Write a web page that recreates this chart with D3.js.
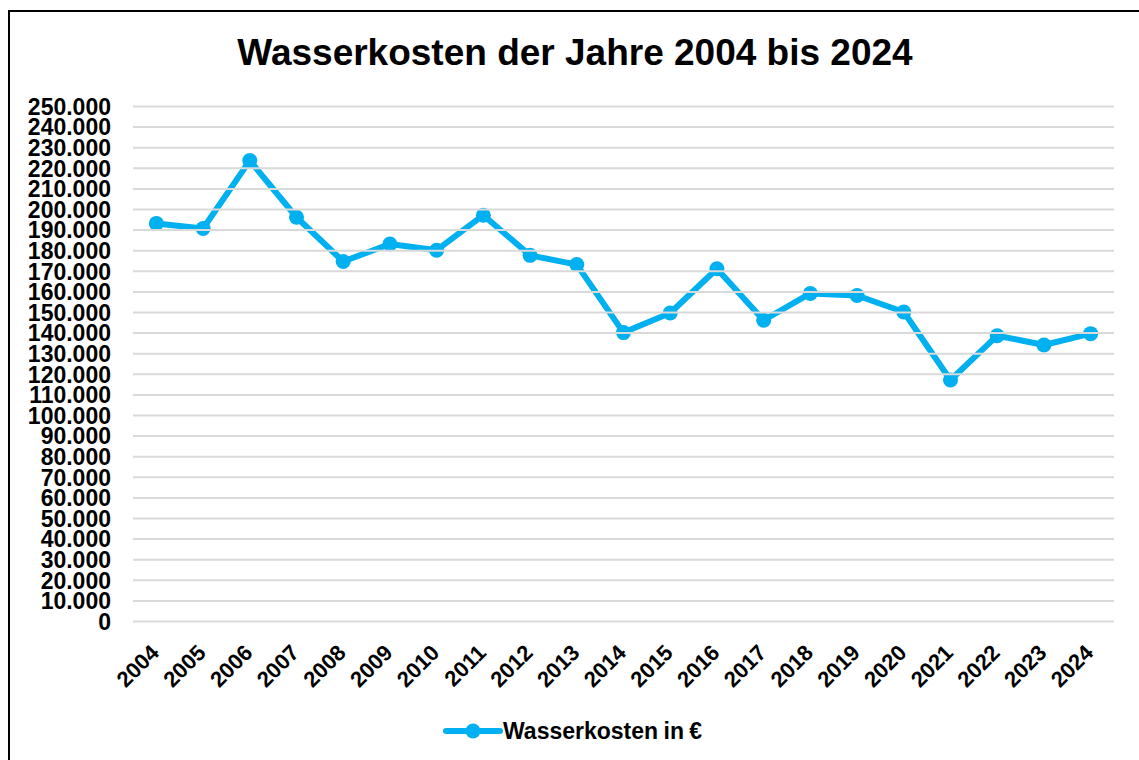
<!DOCTYPE html>
<html>
<head>
<meta charset="utf-8">
<script src="https://cdn.jsdelivr.net/npm/d3@7"></script>
<style>
  body { margin: 0; background: #ffffff; }
  svg { display: block; font-family: "Liberation Sans", Arial, sans-serif; }
  .axis text { font-weight: bold; fill: #000000; }
  .axis .domain { display: none; }
</style>
</head>
<body>
<svg></svg>
<script>
// data
let years = ['2004', '2005', '2006', '2007', '2008', '2009', '2010', '2011', '2012', '2013',
  '2014', '2015', '2016', '2017', '2018', '2019', '2020', '2021', '2022', '2023', '2024'];

let costs = [193000, 190500, 223500, 196000, 174500, 183000, 180000, 197000, 177500, 173000,
  140000, 149500, 171000, 146000, 159000, 158000, 150000, 117000, 138500, 134000, 139500];

let yTicks = [0, 10000, 20000, 30000, 40000, 50000, 60000, 70000, 80000, 90000, 100000,
  110000, 120000, 130000, 140000, 150000, 160000, 170000, 180000, 190000, 200000,
  210000, 220000, 230000, 240000, 250000];

let title = 'Wasserkosten der Jahre 2004 bis 2024';
let seriesName = 'Wasserkosten in €';

// configuration of svg/plot area
let config = {
  'svg': {},
  'margin': {},
  'plot': {}
};

config.svg.width = 1139;
config.svg.height = 760;

config.margin.top = 106;
config.margin.right = 25;
config.margin.bottom = 139;
config.margin.left = 133;

config.plot.x = config.margin.left;
config.plot.y = config.margin.top;
config.plot.width = config.svg.width - config.margin.left - config.margin.right;
config.plot.height = config.svg.height - config.margin.top - config.margin.bottom;

let blue = '#00b0f0';

// setup svg
let svg = d3.select('body').select('svg');
svg.attr('width', config.svg.width);
svg.attr('height', config.svg.height);

// outer frame (runs off the right and bottom edge like the screenshot)
svg.append('rect')
  .attr('x', 9)
  .attr('y', 11)
  .attr('width', 1200)
  .attr('height', 800)
  .style('fill', 'none')
  .style('stroke', '#000000')
  .style('stroke-width', 2);

let plot = svg.append('g');
plot.attr('id', 'plot');
plot.attr('transform', translate(config.plot.x, config.plot.y));

// scales for data
let scale = {};

scale.x = d3.scaleBand();
scale.x.domain(years);
scale.x.range([0, config.plot.width]);

scale.y = d3.scaleLinear();
scale.y.domain([0, 250000]);
scale.y.range([config.plot.height, 0]);

// german number format: 250.000
let de = d3.formatLocale({ decimal: ',', thousands: '.', grouping: [3], currency: ['', ' €'] });
let fmt = de.format(',.0f');

let axis = {};
axis.y = d3.axisLeft(scale.y);
axis.y.tickValues(yTicks);
axis.y.tickFormat(fmt);
axis.y.tickSize(-config.plot.width);
axis.y.tickPadding(22);

axis.x = d3.axisBottom(scale.x);
axis.x.tickSize(0);

// y axis with gridlines
let gy = svg.append('g');
gy.attr('id', 'y-axis');
gy.attr('class', 'axis');
gy.attr('transform', translate(config.plot.x, config.plot.y));
gy.call(axis.y);
gy.selectAll('.tick line')
  .style('stroke', '#d9d9d9')
  .style('stroke-width', 2);
gy.selectAll('.tick text')
  .style('font-size', '23px')
  .attr('dy', '0.36em');

// x axis with rotated labels
let gx = svg.append('g');
gx.attr('id', 'x-axis');
gx.attr('class', 'axis');
gx.attr('transform', translate(config.plot.x, config.plot.y + config.plot.height));
gx.call(axis.x);
gx.selectAll('.tick text')
  .style('font-size', '22px')
  .style('text-anchor', 'end')
  .attr('y', 0)
  .attr('dy', 0)
  .attr('transform', 'translate(4,33) rotate(-45)');

// line and markers
let line = d3.line()
  .x((d, i) => scale.x(years[i]) + scale.x.bandwidth() / 2)
  .y(d => scale.y(d));

plot.append('path')
  .datum(costs)
  .attr('d', line)
  .style('fill', 'none')
  .style('stroke', blue)
  .style('stroke-width', 6)
  .style('stroke-linejoin', 'round');

plot.selectAll('circle.point')
  .data(costs)
  .enter()
  .append('circle')
  .attr('class', 'point')
  .attr('cx', (d, i) => scale.x(years[i]) + scale.x.bandwidth() / 2)
  .attr('cy', d => scale.y(d))
  .attr('r', 7.5)
  .style('fill', blue);

// title
svg.append('text')
  .attr('id', 'charttitle')
  .attr('x', 575)
  .attr('y', 65)
  .style('text-anchor', 'middle')
  .style('font-weight', 'bold')
  .style('font-size', '37px')
  .text(title);

// legend
let legend = svg.append('g').attr('transform', translate(446, 731));
legend.append('line')
  .attr('x1', 0)
  .attr('x2', 54)
  .style('stroke', blue)
  .style('stroke-width', 6)
  .style('stroke-linecap', 'round');
legend.append('circle')
  .attr('cx', 27)
  .attr('r', 7.5)
  .style('fill', blue);
legend.append('text')
  .attr('x', 57)
  .attr('dy', '0.36em')
  .style('font-weight', 'bold')
  .style('font-size', '23px')
  .style('word-spacing', '-1px')
  .text(seriesName);

// helper method to make translating easier
function translate(x, y) {
  return 'translate(' + x + ',' + y + ')';
}
</script>
</body>
</html>
